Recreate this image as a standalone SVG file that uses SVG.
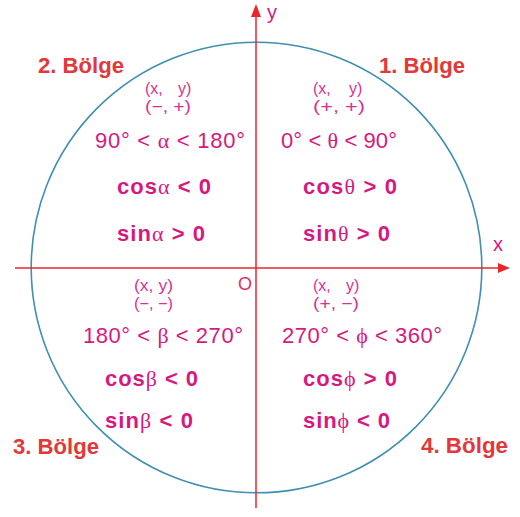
<svg xmlns="http://www.w3.org/2000/svg" width="520" height="517" viewBox="0 0 520 517">
<style>
.q{font-family:"Liberation Sans",Arial,sans-serif;fill:#d6197f;font-size:22px}
.b{font-weight:bold}
.s{font-family:"Liberation Sans",Arial,sans-serif;fill:#d8318f;font-size:16px}
.g{font-family:"Liberation Serif","DejaVu Serif",serif;font-weight:normal}
.lbl{font-family:"Liberation Sans",Arial,sans-serif;fill:#e2383a;font-size:22px;font-weight:bold}
.ax{font-family:"Liberation Sans",Arial,sans-serif;fill:#d6197f;font-size:20px}
.axis{stroke:#e8262c;stroke-width:1.5;fill:none}
</style>
<rect width="520" height="517" fill="#ffffff"/>
<g id="circle">
<circle cx="256.5" cy="267.5" r="225.3" fill="none" stroke="#3f8fb3" stroke-width="1.6"/>
</g>
<g id="connectors">
<line class="axis" x1="15" y1="268" x2="500" y2="268"/>
<polygon points="498,263 510,268 498,273" fill="#e8262c"/>
<line class="axis" x1="256" y1="508" x2="256" y2="16"/>
<polygon points="251,17 256,4 261,17" fill="#e8262c"/>
</g>
<g id="axis-labels">
<text class="ax" x="267" y="19">y</text>
<text class="ax" x="493" y="251">x</text>
<text x="238" y="290" style="font-family:'Liberation Sans',Arial,sans-serif;font-size:18px;fill:#e0305e">O</text>
</g>
<g id="quadrant-labels">
<text class="lbl" x="38" y="73" textLength="86" lengthAdjust="spacingAndGlyphs">2. Bölge</text>
<text class="lbl" x="379" y="73" textLength="86" lengthAdjust="spacingAndGlyphs">1. Bölge</text>
<text class="lbl" x="13" y="454" textLength="86" lengthAdjust="spacingAndGlyphs">3. Bölge</text>
<text class="lbl" x="421" y="453" textLength="87" lengthAdjust="spacingAndGlyphs">4. Bölge</text>
</g>
<g id="q1">
<text class="s" y="94"><tspan x="313">(x,</tspan><tspan x="349">y)</tspan></text>
<text class="s" x="313" y="112" textLength="52" lengthAdjust="spacingAndGlyphs">(+, +)</text>
<text class="q" x="281" y="148" textLength="116">0° &lt; <tspan class="g">θ</tspan> &lt; 90°</text>
<text class="q b" x="303" y="194" textLength="94">cos<tspan class="g">θ</tspan> &gt; 0</text>
<text class="q b" x="303" y="241" textLength="87">sin<tspan class="g">θ</tspan> &gt; 0</text>
</g>
<g id="q2">
<text class="s" y="94"><tspan x="145">(x,</tspan><tspan x="178">y)</tspan></text>
<text class="s" x="145" y="112" textLength="46" lengthAdjust="spacingAndGlyphs">(−, +)</text>
<text class="q" x="95" y="148" textLength="150">90° &lt; <tspan class="g">α</tspan> &lt; 180°</text>
<text class="q b" x="117" y="194" textLength="94">cos<tspan class="g">α</tspan> &lt; 0</text>
<text class="q b" x="117" y="241" textLength="88">sin<tspan class="g">α</tspan> &gt; 0</text>
</g>
<g id="q3">
<text class="s" x="134" y="291" textLength="39" lengthAdjust="spacingAndGlyphs">(x, y)</text>
<text class="s" x="134" y="309" textLength="39" lengthAdjust="spacingAndGlyphs">(−, −)</text>
<text class="q" x="83" y="343" textLength="160">180° &lt; <tspan class="g">β</tspan> &lt; 270°</text>
<text class="q b" x="105" y="386" textLength="93">cos<tspan class="g">β</tspan> &lt; 0</text>
<text class="q b" x="105" y="428" textLength="88">sin<tspan class="g">β</tspan> &lt; 0</text>
</g>
<g id="q4">
<text class="s" y="291"><tspan x="313">(x,</tspan><tspan x="346">y)</tspan></text>
<text class="s" x="313" y="309" textLength="46" lengthAdjust="spacingAndGlyphs">(+, −)</text>
<text class="q" x="282" y="343" textLength="160">270° &lt; <tspan class="g">ϕ</tspan> &lt; 360°</text>
<text class="q b" x="303" y="386" textLength="94">cos<tspan class="g">ϕ</tspan> &gt; 0</text>
<text class="q b" x="303" y="428" textLength="87">sin<tspan class="g">ϕ</tspan> &lt; 0</text>
</g>
</svg>
